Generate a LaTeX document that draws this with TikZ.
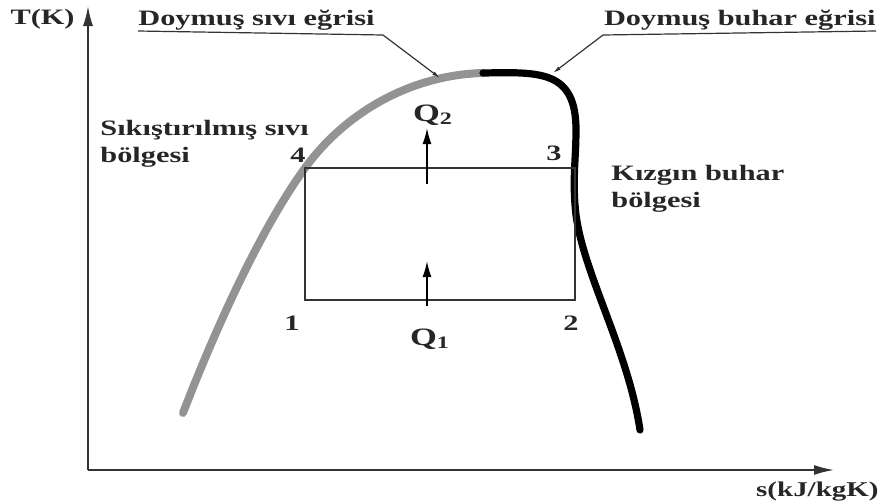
\documentclass[tikz,border=0pt]{standalone}
\usepackage{fontspec}
\setmainfont{Liberation Serif}[FakeStretch=1.38]
\usetikzlibrary{arrows.meta,positioning}
\begin{document}
\begin{tikzpicture}[x=0.5pt,y=-0.5pt,
  lbl/.style={font=\bfseries\fontsize{11}{13.5}\selectfont,inner sep=0pt,text=black!85},
  reg/.style={lbl,align=left},
  axis/.style={line width=0.9pt,black!80,-{Latex[length=10pt,width=5pt]}},
  leader/.style={line width=0.6pt,black!80,-{Latex[length=4pt,width=2pt]}},
  heat/.style={line width=0.8pt,-{Latex[length=8pt,width=4.5pt]}},
  liq/.style={line width=4pt,gray!85,line cap=round},
  vap/.style={line width=3.6pt,black,line cap=round}]
\useasboundingbox (0,0) rectangle (880,504);

% eksenler
\coordinate (O) at (88,470);
\coordinate (ytip) at (88,6);
\coordinate (xtip) at (834,470);
\draw[axis] (O) -- (ytip);
\draw[axis] (O) -- (xtip);
\node[lbl,anchor=east] (Tlab) at (75,19) {T(K)};
\node[lbl,anchor=north east,font=\bfseries\fontsize{10.5}{12}\selectfont] (slab) at (879,482) {s(kJ/kgK)};

% doyma egrileri
\draw[liq] (183,413) .. controls (215,330) and (260,230) .. (305,168)
  .. controls (345,113) and (410,75) .. (483,73);
\draw[vap] (483,73) .. controls (540,72) and (576,70) .. (576,130)
  .. controls (576,160) and (572,180) .. (576,215)
  .. controls (584,275) and (628,350) .. (640,430);

% cevrim
\coordinate (p1) at (305,300);
\coordinate (p2) at (575,300);
\coordinate (p3) at (575,168);
\coordinate (p4) at (305,168);
\draw[line width=0.6pt,black!80] (p1) -- (p2) -- (p3) -- (p4) -- cycle;
\node[lbl] (n1) at (292,323) {1};
\node[lbl] (n2) at (571,323) {2};
\node[lbl] (n3) at (554,153) {3};
\node[lbl] (n4) at (298,155) {4};

% isi gecisi
\coordinate (q1a) at (427,306);
\coordinate (q1b) at (427,261);
\coordinate (q2a) at (427,184);
\coordinate (q2b) at (427,128);
\draw[heat] (q1a) -- (q1b);
\draw[heat] (q2a) -- (q2b);
\node[lbl,font=\bfseries\fontsize{12.5}{14}\selectfont] (Q1) at (430,339) {Q\textsubscript{1}};
\node[lbl,font=\bfseries\fontsize{12.5}{14}\selectfont] (Q2) at (433,115) {Q\textsubscript{2}};

% bolgeler
\node[reg,anchor=north west] (liqreg) at (100,120) {Sıkıştırılmış sıvı\\bölgesi};
\node[reg,anchor=north west] (vapreg) at (611,165) {Kızgın buhar\\bölgesi};

% egri adlari
\node[lbl,anchor=south west] (liqname) at (138,31) {Doymuş sıvı eğrisi};
\node[lbl,anchor=south east] (vapname) at (876,31) {Doymuş buhar eğrisi};
\coordinate (liqtip) at (440,78);
\coordinate (vaptip) at (553,73);
\draw[leader] (liqname.south west) -- (383,35) -- (liqtip);
\draw[leader] (vapname.south east) -- (603,35) -- (vaptip);
\end{tikzpicture}
\end{document}
